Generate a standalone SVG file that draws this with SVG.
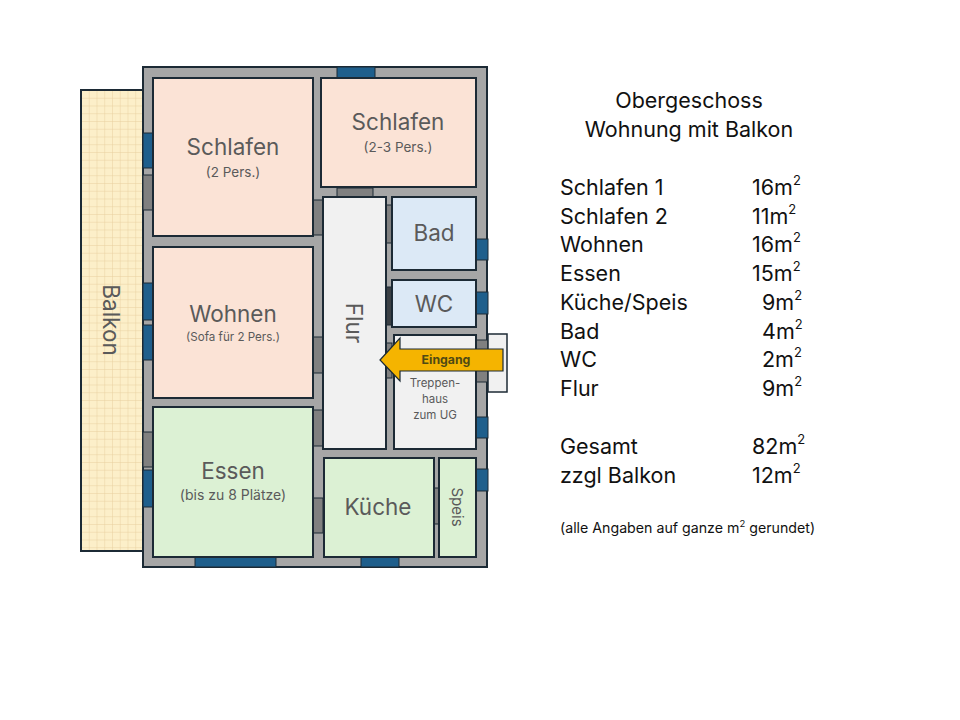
<svg xmlns="http://www.w3.org/2000/svg" width="960" height="720" viewBox="0 0 960 720">
<defs>
<pattern id="grid" x="81" y="90" width="7.75" height="7.75" patternUnits="userSpaceOnUse">
<rect width="7.75" height="7.75" fill="#fcefc9"/>
<path d="M0 0H7.75M0 0V7.75" stroke="#e6cc9c" stroke-width="0.9" fill="none"/>
</pattern>
</defs>
<style>
.ln{stroke:#1c2a35;stroke-width:2}
.wall{fill:#a6a6a6}
.win{fill:#1f5f8c;stroke:#1c2a35;stroke-width:1}
.door{fill:#808080;stroke:#1c2a35;stroke-width:1}
.rose{fill:#fbe3d6}
.green{fill:#dcf1d4}
.blue{fill:#dce9f6}
.grey{fill:#f1f1f1}
.rt{font-family:Inter,"Noto Sans",sans-serif;fill:#5a5a5a;text-anchor:middle}
.big{font-size:22.5px}
.sm{font-size:13.5px}
.info{font-family:Inter,"Noto Sans",sans-serif;fill:#111;font-size:21.5px}
</style>
<rect width="960" height="720" fill="#fff"/>
<g id="balkon">
<rect x="81" y="90" width="62" height="461" fill="url(#grid)" class="ln"/>
<text class="rt big" transform="translate(111,320) rotate(90)" dy="0.35em">Balkon</text>
</g>
<g id="walls">
<rect x="143" y="67" width="344" height="500" class="wall ln"/>
</g>
<g id="openings">
<rect class="win" x="337" y="67" width="38" height="11"/>
<rect class="win" x="143" y="133" width="10" height="35"/>
<rect class="win" x="143" y="283" width="10" height="37"/>
<rect class="win" x="143" y="325" width="10" height="35"/>
<rect class="win" x="143" y="470" width="10" height="37"/>
<rect class="win" x="195" y="557" width="81" height="10"/>
<rect class="win" x="361" y="557" width="38" height="10"/>
<rect class="win" x="476" y="239" width="12" height="21"/>
<rect class="win" x="476" y="292" width="12" height="22"/>
<rect class="win" x="476" y="417" width="12" height="21"/>
<rect class="win" x="476" y="469" width="12" height="22"/>
<rect class="door" x="143" y="175" width="10" height="35"/>
<rect class="door" x="143" y="432" width="10" height="35"/>
<rect class="door" x="313" y="200" width="10" height="35"/>
<rect class="door" x="313" y="337" width="10" height="36"/>
<rect class="door" x="313" y="410" width="10" height="36"/>
<rect class="door" x="313" y="498" width="10" height="35"/>
<rect class="door" x="337" y="188" width="36" height="9"/>
<rect class="door" x="386" y="205" width="6" height="38"/>
<rect class="door" x="386" y="287" width="6" height="38" style="fill:#3a3f44"/>
<rect class="door" x="386" y="343" width="6" height="35"/>
<rect class="door" x="476" y="340" width="12" height="42"/>
<rect class="door" x="434" y="488" width="5" height="36"/>
</g>
<g id="schlafen1">
<rect x="153" y="78" width="160" height="158" class="rose ln"/>
<text class="rt big" x="233" y="155">Schlafen</text>
<text class="rt sm" x="233" y="177">(2 Pers.)</text>
</g>
<g id="schlafen2">
<rect x="321" y="78" width="155" height="109" class="rose ln"/>
<text class="rt big" x="398" y="130">Schlafen</text>
<text class="rt sm" x="398" y="152">(2-3 Pers.)</text>
</g>
<g id="wohnen">
<rect x="153" y="247" width="160" height="151" class="rose ln"/>
<text class="rt big" x="233" y="322">Wohnen</text>
<text class="rt" x="233" y="341" style="font-size:11.6px">(Sofa für 2 Pers.)</text>
</g>
<g id="essen">
<rect x="153" y="407" width="160" height="150" class="green ln"/>
<text class="rt big" x="233" y="479">Essen</text>
<text class="rt" x="233" y="500" style="font-size:14px">(bis zu 8 Plätze)</text>
</g>
<g id="flur">
<rect x="323" y="197" width="63" height="252" class="grey ln"/>
<text class="rt big" transform="translate(354,323) rotate(90)" dy="0.35em">Flur</text>
</g>
<g id="bad">
<rect x="392" y="197" width="84" height="73" class="blue ln"/>
<text class="rt big" x="434" y="241">Bad</text>
</g>
<g id="wc">
<rect x="392" y="280" width="84" height="47" class="blue ln"/>
<text class="rt big" x="434" y="312">WC</text>
</g>
<g id="treppenhaus">
<rect x="394" y="335" width="82" height="114" class="grey ln"/>
<text class="rt" x="435" y="387" style="font-size:11.5px">Treppen-</text>
<text class="rt" x="435" y="403" style="font-size:11.5px">haus</text>
<text class="rt" x="435" y="419" style="font-size:11.5px">zum UG</text>
</g>
<g id="kueche">
<rect x="324" y="458" width="110" height="99" class="green ln"/>
<text class="rt big" x="378" y="515">Küche</text>
</g>
<g id="speis">
<rect x="439" y="458" width="37" height="99" class="green ln"/>
<text class="rt" transform="translate(457,507) rotate(90)" dy="0.35em" style="font-size:15px">Speis</text>
</g>
<g id="aussen">
<rect x="488" y="334" width="19" height="58" fill="#f1f1f1" stroke="#1c2a35" stroke-width="1.5"/>
</g>
<g id="connectors">
<g id="eingang">
<path d="M380 360 L400 338 L400 349 L503 349 L503 371 L400 371 L400 381 Z" fill="#f5b400" stroke="#1c2a35" stroke-width="1.2"/>
<text x="446" y="364" font-family="Inter,'Noto Sans',sans-serif" font-size="12.3" font-weight="bold" fill="#4f4a14" text-anchor="middle">Eingang</text>
</g>
</g>
<g id="info">
<text class="info" x="689" y="108" text-anchor="middle">Obergeschoss</text>
<text class="info" x="689" y="137" text-anchor="middle">Wohnung mit Balkon</text>
<text class="info" x="560" y="195">Schlafen 1</text>
<text class="info" x="560" y="224">Schlafen 2</text>
<text class="info" x="560" y="252">Wohnen</text>
<text class="info" x="560" y="281">Essen</text>
<text class="info" x="560" y="310">Küche/Speis</text>
<text class="info" x="560" y="339">Bad</text>
<text class="info" x="560" y="367">WC</text>
<text class="info" x="560" y="396">Flur</text>
<text class="info" x="560" y="454">Gesamt</text>
<text class="info" x="560" y="483">zzgl Balkon</text>
<text class="info" x="752" y="195">16m<tspan font-size="13" dy="-10">2</tspan></text>
<text class="info" x="752" y="224">11m<tspan font-size="13" dy="-10">2</tspan></text>
<text class="info" x="752" y="252">16m<tspan font-size="13" dy="-10">2</tspan></text>
<text class="info" x="752" y="281">15m<tspan font-size="13" dy="-10">2</tspan></text>
<text class="info" x="762" y="310">9m<tspan font-size="13" dy="-10">2</tspan></text>
<text class="info" x="762" y="339">4m<tspan font-size="13" dy="-10">2</tspan></text>
<text class="info" x="762" y="367">2m<tspan font-size="13" dy="-10">2</tspan></text>
<text class="info" x="762" y="396">9m<tspan font-size="13" dy="-10">2</tspan></text>
<text class="info" x="752" y="454">82m<tspan font-size="13" dy="-10">2</tspan></text>
<text class="info" x="752" y="483">12m<tspan font-size="13" dy="-10">2</tspan></text>
<text class="info" x="560" y="533" style="font-size:14.2px">(alle Angaben auf ganze m<tspan font-size="9.5" dy="-6">2</tspan><tspan dy="6"> gerundet)</tspan></text>
</g>
</svg>
